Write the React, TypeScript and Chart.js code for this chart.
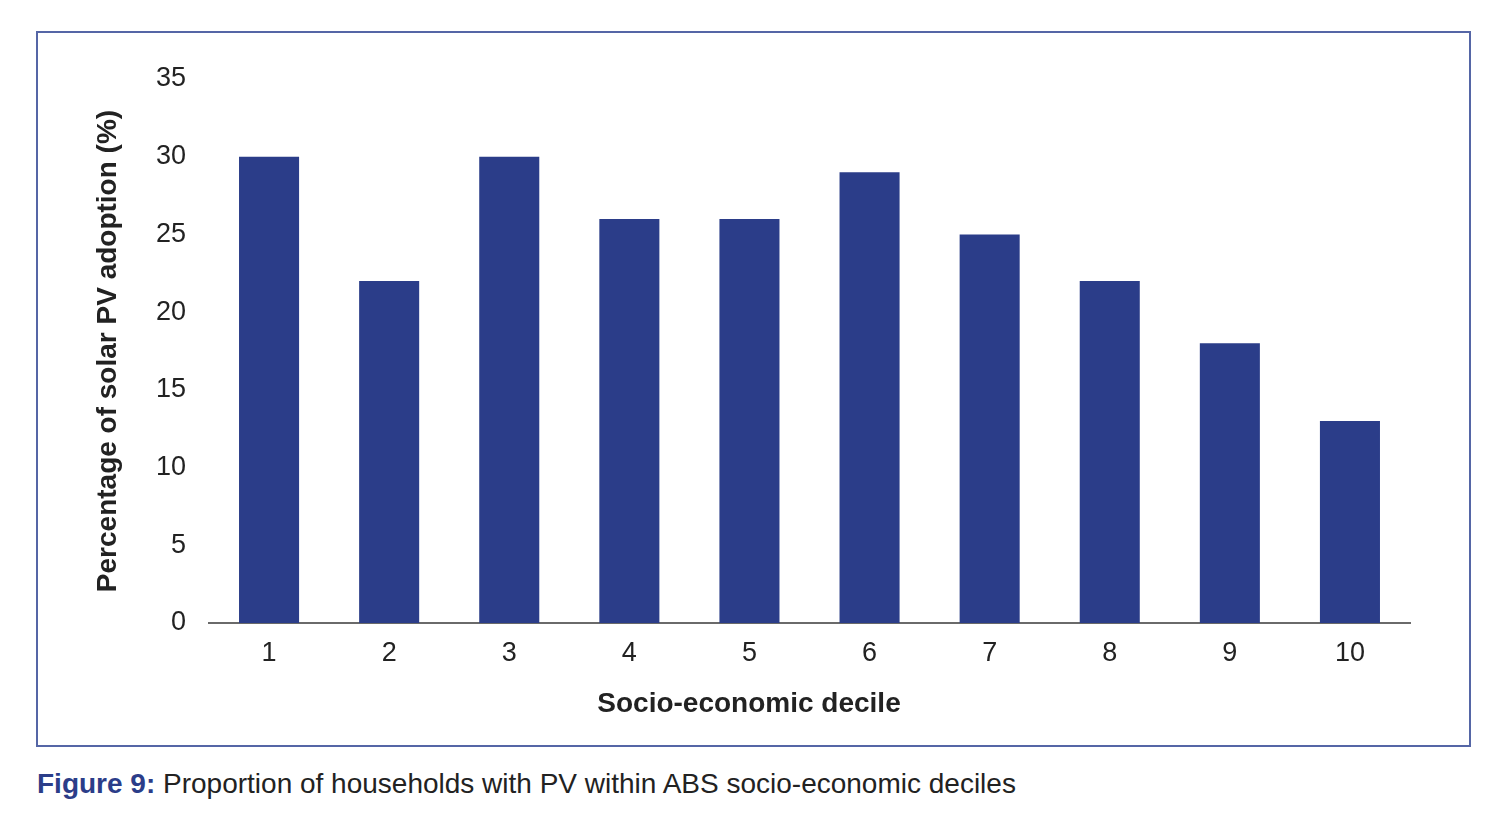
import React, { useEffect, useRef } from "react";
import { Chart, registerables } from "chart.js";

Chart.register(...registerables);

const deciles = ["1", "2", "3", "4", "5", "6", "7", "8", "9", "10"];
const adoption = [30, 22, 30, 26, 26, 29, 25, 22, 18, 13];
const yMax = 35;
const yStep = 5;
const xTitle = "Socio-economic decile";
const yTitle = "Percentage of solar PV adoption (%)";

const FONT = "'Liberation Sans', Arial, Helvetica, sans-serif";
const BAR = "#2b3d89";

// x title in the reference is centred on the whole frame, not on the plot area
const xTitlePlugin = {
  id: "xTitle",
  afterDraw(chart: any) {
    const ctx = chart.ctx;
    ctx.save();
    ctx.font = `bold 28px ${FONT}`;
    ctx.fillStyle = "#222";
    ctx.textAlign = "center";
    ctx.textBaseline = "middle";
    ctx.fillText(xTitle, 711, 671);
    ctx.restore();
  },
};

const App: React.FC = () => {
  const canvasRef = useRef<HTMLCanvasElement | null>(null);

  useEffect(() => {
    document.body.style.margin = "0";
    if (!canvasRef.current) return;
    const chart = new Chart(canvasRef.current, {
      type: "bar",
      data: {
        labels: deciles,
        datasets: [
          {
            data: adoption,
            backgroundColor: BAR,
            borderWidth: 0,
            categoryPercentage: 1,
            barPercentage: 0.5,
          },
        ],
      },
      options: {
        animation: false,
        responsive: false,
        maintainAspectRatio: false,
        layout: { padding: { top: 46, right: 59, bottom: 0, left: 0 } },
        plugins: {
          legend: { display: false },
          tooltip: { enabled: false },
        },
        scales: {
          x: {
            grid: { display: false },
            border: { display: true, color: "#6a6a6a", width: 2 },
            ticks: {
              color: "#222",
              padding: 6,
              font: { family: FONT, size: 27 },
            },
            afterFit: (scale: any) => {
              scale.height = 122;
            },
          },
          y: {
            min: 0,
            max: yMax,
            grid: { display: false },
            border: { display: false },
            ticks: {
              stepSize: yStep,
              color: "#222",
              padding: 15,
              font: { family: FONT, size: 27 },
            },
            title: {
              display: true,
              text: yTitle,
              color: "#222",
              padding: { top: 53, bottom: 0 },
              font: { family: FONT, size: 28, weight: "bold" },
            },
            afterFit: (scale: any) => {
              scale.width = 171;
            },
          },
        },
      },
      plugins: [xTitlePlugin],
    });
    return () => chart.destroy();
  }, []);

  return (
    <div style={{ position: "relative", width: 1506, height: 814, background: "#fff", fontFamily: FONT }}>
      <div
        style={{
          position: "absolute",
          left: 36,
          top: 31,
          width: 1431,
          height: 712,
          border: "2px solid #5566a6",
        }}
      >
        <canvas ref={canvasRef} width={1431} height={712} style={{ display: "block", width: 1431, height: 712 }} />
      </div>
      <div
        style={{
          position: "absolute",
          left: 37,
          top: 766,
          fontSize: 28,
          lineHeight: "36px",
          color: "#222",
          whiteSpace: "nowrap",
        }}
      >
        <span style={{ color: BAR, fontWeight: "bold" }}>Figure 9:</span> Proportion of households with PV within ABS
        socio-economic deciles
      </div>
    </div>
  );
};

export default App;
